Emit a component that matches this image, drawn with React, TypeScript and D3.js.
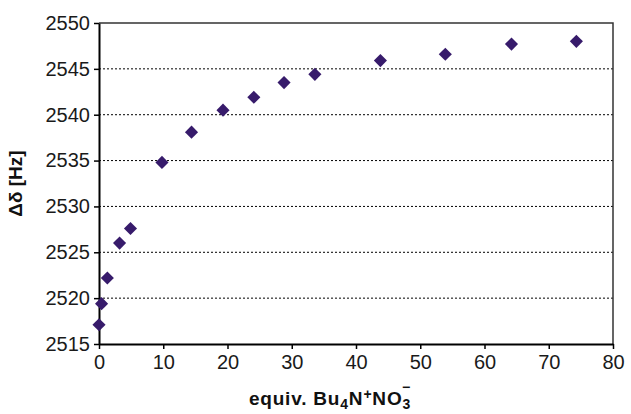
import * as d3 from "d3";
import { useEffect, useRef } from "react";

const W = 631;
const H = 414;
const MARGIN = { top: 23, right: 18, bottom: 70, left: 99 };

const equiv = [0, 0.4, 1.3, 3.2, 4.9, 9.8, 14.4, 19.3, 24.1, 28.8, 33.6, 43.8, 53.9, 64.2, 74.3];
const shift = [2517.1, 2519.4, 2522.2, 2526.0, 2527.6, 2534.8, 2538.1, 2540.5, 2541.9, 2543.5, 2544.4, 2545.9, 2546.6, 2547.7, 2548.0];
const xTicks = [0, 10, 20, 30, 40, 50, 60, 70, 80];
const yTicks = [2515, 2520, 2525, 2530, 2535, 2540, 2545, 2550];

const FONT = "'Liberation Sans', Arial, sans-serif";

export default function App() {
  const ref = useRef<SVGSVGElement>(null);

  useEffect(() => {
    const svg = d3.select(ref.current);
    svg.selectAll("*").remove();
    const bw = W - MARGIN.left - MARGIN.right;
    const bh = H - MARGIN.top - MARGIN.bottom;

    const x = d3.scaleLinear().domain([0, 80]).range([0, bw]);
    const y = d3.scaleLinear().domain([2515, 2550]).range([bh, 0]);

    const g = svg.append("g").attr("transform", `translate(${MARGIN.left},${MARGIN.top})`);

    // dotted grid lines
    g.selectAll(".grid")
      .data(yTicks.slice(1, -1))
      .join("line")
      .attr("x1", 0)
      .attr("x2", bw)
      .attr("y1", (d) => y(d))
      .attr("y2", (d) => y(d))
      .attr("stroke", "#000")
      .attr("stroke-width", 1)
      .attr("stroke-dasharray", "2,2");

    // top and right frame
    g.append("path")
      .attr("d", `M0,0H${bw}V${bh}`)
      .attr("fill", "none")
      .attr("stroke", "#333")
      .attr("stroke-width", 1.5);

    const xAxis = g.append("g")
      .attr("transform", `translate(0,${bh})`)
      .call(d3.axisBottom(x).tickValues(xTicks).tickSize(5).tickPadding(6).tickSizeOuter(0));
    const yAxis = g.append("g")
      .call(d3.axisLeft(y).tickValues(yTicks).tickSize(5).tickPadding(4).tickSizeOuter(0).tickFormat(d3.format("d")));

    [xAxis, yAxis].forEach((a) => {
      a.select(".domain").attr("stroke", "#000").attr("stroke-width", 2);
      a.selectAll(".tick line").attr("stroke", "#000").attr("stroke-width", 1.5);
      a.selectAll(".tick text").attr("font-family", FONT).attr("font-size", 20).attr("fill", "#1a1a1a");
    });

    // diamond markers
    const diamond = d3.symbol().type(d3.symbolSquare).size(86);
    g.selectAll(".pt")
      .data(equiv.map((e, i) => ({ e, s: shift[i] })))
      .join("path")
      .attr("d", diamond)
      .attr("transform", (d) => `translate(${x(d.e)},${y(d.s)}) rotate(45)`)
      .attr("fill", "#371b6b");

    // y label
    svg.append("text")
      .attr("transform", `translate(22,${MARGIN.top + bh / 2}) rotate(-90)`)
      .attr("text-anchor", "middle")
      .attr("font-family", FONT)
      .attr("font-weight", "bold")
      .attr("font-size", 19)
      .attr("fill", "#111")
      .text("Δδ [Hz]");

    // x label with sub/superscripts
    const xl = svg.append("text")
      .attr("x", 330)
      .attr("y", 405)
      .attr("text-anchor", "middle")
      .attr("font-family", FONT)
      .attr("font-weight", "bold")
      .attr("font-size", 19)
      .attr("letter-spacing", 0.8)
      .attr("fill", "#111");
    xl.append("tspan").text("equiv. Bu");
    xl.append("tspan").attr("font-size", 14).attr("dy", 4).text("4");
    xl.append("tspan").attr("dy", -4).text("N");
    xl.append("tspan").attr("font-size", 14).attr("dy", -6).text("+");
    xl.append("tspan").attr("dy", 6).text("NO");
    xl.append("tspan").attr("font-size", 14).attr("dy", 4).text("3");
    xl.append("tspan").attr("font-size", 14).attr("dx", -9).attr("dy", -17).text("−");
  }, []);

  return (
    <div>
      <style>{`body{margin:0}`}</style>
      <svg ref={ref} width={W} height={H} style={{ display: "block", background: "#fff" }} />
    </div>
  );
}
